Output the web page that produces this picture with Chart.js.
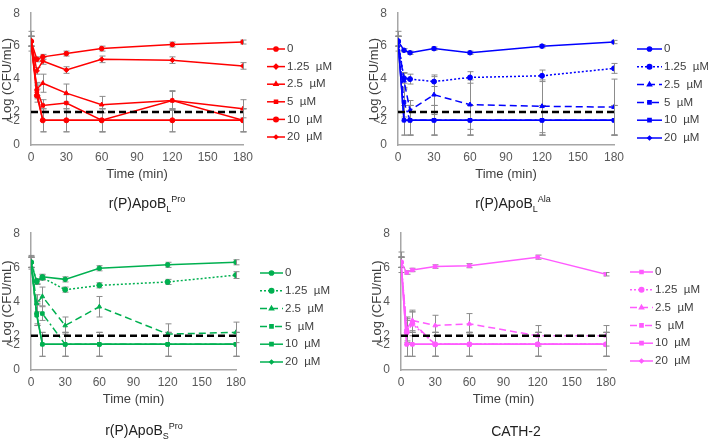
<!DOCTYPE html>
<html><head><meta charset="utf-8">
<script src="https://cdn.jsdelivr.net/npm/chart.js@4.4.1/dist/chart.umd.min.js"></script>
<style>
body{margin:0;width:708px;height:440px;background:#fff;position:relative;overflow:hidden;font-family:"Liberation Sans",Arial,sans-serif;}
canvas{position:absolute;}
.ttl{position:absolute;font-size:14px;color:#222;white-space:nowrap;transform:translate(-50%,-50%);}
.ttl sub,.ttl sup{font-size:9px;}
</style></head><body>
<script>
// ---------- DATA ----------
const times = [0, 5, 10, 30, 60, 120, 180];
const seriesLabels = ['0', '1.25  µM', '2.5  µM', '5  µM', '10  µM', '20  µM'];
const xTickStep = 30;
const yTickValues = [0, 1.5, 2, 4, 6, 8];
const yTickLabels = ['0', '<2', '2', '4', '6', '8'];
const detectionLimit = 2;
const xAxisTitle = 'Time (min)';
const yAxisTitle = 'Log (CFU/mL)';
const panelTitles = ['r(P)ApoB<sub>L</sub><sup>Pro</sup>', 'r(P)ApoB<sub>L</sub><sup>Ala</sup>', 'r(P)ApoB<sub>S</sub><sup>Pro</sup>', 'CATH-2'];

const apoBLProMeans = [
  [6.3, 5.2, 5.35, 5.55, 5.85, 6.1, 6.25],
  [6.3, 4.5, 5.1, 4.55, 5.2, 5.15, 4.8],
  [6.3, 3.4, 3.75, 3.15, 2.45, 2.7, 2.2],
  [6.3, 3.3, 2.4, 2.55, 1.5, 2.7, 1.5],
  [6.3, 3.0, 1.5, 1.5, 1.5, 1.5, 1.5],
  [6.3, 3.2, 1.5, 1.5, 1.5, 1.5, 1.5]
];
const apoBLProErrors = [
  [0.6, 0.15, 0.15, 0.15, 0.15, 0.15, 0.12],
  [0.3, 0.2, 0.2, 0.2, 0.2, 0.2, 0.2],
  [0.3, 0.4, 0.55, 0.55, 0.5, 0.6, 0.55],
  [0.3, 0.4, 0.35, 0.5, 0.7, 0.55, 0.7],
  [0.3, 0.4, 0.7, 0.7, 0.7, 0.7, 0.7],
  [0.3, 0.4, 0.7, 0.7, 0.7, 0.7, 0.7]
];
const apoBLAlaMeans = [
  [6.3, 5.75, 5.6, 5.85, 5.6, 6.0, 6.25],
  [6.3, 4.05, 4.0, 3.85, 4.1, 4.2, 4.65],
  [6.3, 3.9, 2.1, 3.05, 2.45, 2.35, 2.3],
  [6.3, 2.6, 1.5, 1.5, 1.5, 1.5, 1.5],
  [6.3, 1.5, 1.5, 1.5, 1.5, 1.5, 1.5],
  [6.3, 1.5, 1.5, 1.5, 1.5, 1.5, 1.5]
];
const apoBLAlaErrors = [
  [0.6, 0.1, 0.1, 0.1, 0.1, 0.1, 0.1],
  [0.3, 0.3, 0.3, 0.3, 0.35, 0.35, 0.3],
  [0.3, 0.5, 0.6, 1.2, 1.5, 1.6, 1.7],
  [0.3, 0.9, 0.9, 0.9, 0.9, 0.9, 0.9],
  [0.3, 0.9, 0.9, 0.9, 0.9, 0.9, 0.9],
  [0.3, 0.9, 0.9, 0.9, 0.9, 0.9, 0.9]
];
const apoBSProMeans = [
  [6.3, 5.15, 5.45, 5.3, 5.95, 6.15, 6.3],
  [6.3, 5.2, 5.4, 4.7, 4.95, 5.15, 5.55],
  [6.3, 3.9, 4.3, 2.6, 3.7, 2.1, 2.2],
  [6.3, 3.3, 3.3, 1.5, 1.5, 1.5, 1.5],
  [6.3, 3.2, 1.5, 1.5, 1.5, 1.5, 1.5],
  [6.3, 3.3, 1.5, 1.5, 1.5, 1.5, 1.5]
];
const apoBSProErrors = [
  [0.4, 0.15, 0.15, 0.15, 0.15, 0.15, 0.15],
  [0.3, 0.15, 0.15, 0.15, 0.15, 0.15, 0.2],
  [0.3, 0.5, 0.55, 0.5, 0.6, 0.6, 0.6],
  [0.3, 0.7, 0.4, 0.7, 0.7, 0.7, 0.7],
  [0.3, 0.6, 0.7, 0.7, 0.7, 0.7, 0.7],
  [0.3, 0.6, 0.7, 0.7, 0.7, 0.7, 0.7]
];
const cath2Means = [
  [6.3, 5.7, 5.85, 6.05, 6.1, 6.6, 5.6],
  [6.3, 2.2, 2.7, 1.5, 1.5, 1.5, 1.5],
  [6.3, 2.4, 2.9, 2.6, 2.7, 2.0, 2.0],
  [6.3, 2.3, 2.8, 1.5, 1.5, 1.5, 1.5],
  [6.3, 1.5, 1.5, 1.5, 1.5, 1.5, 1.5],
  [6.3, 1.5, 1.5, 1.5, 1.5, 1.5, 1.5]
];
const cath2Errors = [
  [0.6, 0.1, 0.1, 0.1, 0.12, 0.12, 0.1],
  [0.3, 0.7, 0.7, 0.7, 0.7, 0.7, 0.7],
  [0.3, 0.7, 0.6, 0.6, 0.6, 0.6, 0.6],
  [0.3, 0.7, 0.6, 0.7, 0.7, 0.7, 0.7],
  [0.3, 0.7, 0.7, 0.7, 0.7, 0.7, 0.7],
  [0.3, 0.7, 0.7, 0.7, 0.7, 0.7, 0.7]
];

// ---------- STYLE / LAYOUT ----------
const FONT = '"Liberation Sans", Arial, sans-serif';
const SOLID = [], DOT = [2, 2], DASH = [7, 4], DASHDOT = [7, 3, 2, 3];
const X_AXIS_H = 37;
const panels = [
  { means: apoBLProMeans, errors: apoBLProErrors, color: '#ff0000',
    dashes: [SOLID, SOLID, SOLID, SOLID, SOLID, SOLID],
    shapes: ['circle', 'rectRot', 'triangle', 'rect', 'circle', 'rectRot'],
    radii: [2.3, 2.5, 2.6, 2.4, 2.5, 2.0],
    cx: 0, cy: -5, cw: 354, ch: 225, left: 31, right: 243, top: 5, bottom: 145,
    lx1: 267, lx2: 285, ly0: 49, ldy: 17.6, tx: 147, ty: 204, ytx: 7 },
  { means: apoBLAlaMeans, errors: apoBLAlaErrors, color: '#0000ff',
    dashes: [SOLID, DOT, DASH, DASHDOT, SOLID, SOLID],
    shapes: ['circle', 'circle', 'triangle', 'rect', 'rect', 'rectRot'],
    radii: [2.3, 2.5, 2.6, 2.5, 2.5, 2.0],
    cx: 354, cy: -5, cw: 354, ch: 225, left: 398, right: 614, top: 5, bottom: 145,
    lx1: 637, lx2: 662, ly0: 49, ldy: 17.8, tx: 513, ty: 204, ytx: 374 },
  { means: apoBSProMeans, errors: apoBSProErrors, color: '#00b050',
    dashes: [SOLID, DOT, DASH, DASHDOT, SOLID, SOLID],
    shapes: ['circle', 'circle', 'triangle', 'rect', 'rect', 'rectRot'],
    radii: [2.3, 2.5, 2.6, 2.5, 2.5, 2.0],
    cx: 0, cy: 215, cw: 354, ch: 225, left: 31, right: 236, top: 228, bottom: 370,
    lx1: 260, lx2: 283, ly0: 273, ldy: 17.8, tx: 144, ty: 431, ytx: 7 },
  { means: cath2Means, errors: cath2Errors, color: '#ff5bff',
    dashes: [SOLID, DOT, DASH, DASHDOT, SOLID, SOLID],
    shapes: ['rect', 'circle', 'triangle', 'rect', 'rect', 'rectRot'],
    radii: [2.4, 2.5, 2.6, 2.5, 2.5, 2.0],
    cx: 354, cy: 215, cw: 354, ch: 225, left: 401, right: 606, top: 227, bottom: 370,
    lx1: 630, lx2: 653, ly0: 272, ldy: 17.8, tx: 516, ty: 431, ytx: 377 }
];

const errorBarPlugin = {
  id: 'errbars',
  beforeDatasetsDraw(chart) {
    const ctx = chart.ctx, xs = chart.scales.x, ys = chart.scales.y;
    ctx.save();
    ctx.strokeStyle = '#8c8c8c'; ctx.lineWidth = 1;
    chart.data.datasets.forEach(ds => {
      if (!ds.errors) return;
      ds.data.forEach((p, i) => {
        const e = ds.errors[i]; if (!e) return;
        const px = Math.round(xs.getPixelForValue(p.x)) + 0.5;
        const y1 = ys.getPixelForValue(p.y + e), y2 = ys.getPixelForValue(Math.max(0, p.y - e));
        ctx.beginPath();
        ctx.moveTo(px, y1); ctx.lineTo(px, y2);
        ctx.moveTo(px - 3, y1); ctx.lineTo(px + 3, y1);
        ctx.moveTo(px - 3, y2); ctx.lineTo(px + 3, y2);
        ctx.stroke();
      });
    });
    ctx.restore();
  }
};

const sideLegendPlugin = {
  id: 'sideLegend',
  afterDraw(chart, args, o) {
    const ctx = chart.ctx;
    // y-axis title
    ctx.save();
    ctx.translate(o.ytx, (chart.chartArea.top + chart.chartArea.bottom) / 2);
    ctx.rotate(-Math.PI / 2);
    ctx.fillStyle = '#404040'; ctx.font = '13px ' + FONT;
    ctx.textAlign = 'center'; ctx.textBaseline = 'middle';
    ctx.fillText(yAxisTitle, 0, 0);
    ctx.restore();
    chart.data.datasets.filter(d => d.inLegend).forEach((ds, i) => {
      const y = o.y0 + i * o.dy;
      ctx.save();
      ctx.strokeStyle = ds.borderColor; ctx.lineWidth = ds.borderWidth;
      ctx.setLineDash(ds.borderDash || []);
      ctx.beginPath(); ctx.moveTo(o.x1, y); ctx.lineTo(o.x2, y); ctx.stroke();
      ctx.setLineDash([]);
      ctx.fillStyle = ds.pointBackgroundColor; ctx.strokeStyle = ds.borderColor;
      Chart.helpers.drawPoint(ctx, { pointStyle: ds.pointStyle, radius: ds.pointRadius * 0.9, borderWidth: 1, rotation: 0 }, (o.x1 + o.x2) / 2, y);
      ctx.fillStyle = '#404040';
      ctx.font = '11.5px ' + FONT;
      ctx.textBaseline = 'middle'; ctx.textAlign = 'left';
      ctx.fillText(ds.label, o.x2 + 2, y);
      ctx.restore();
    });
  }
};

panels.forEach((p, pi) => {
  const cv = document.createElement('canvas');
  cv.width = p.cw; cv.height = p.ch;
  cv.style.left = p.cx + 'px'; cv.style.top = p.cy + 'px';
  cv.style.width = p.cw + 'px'; cv.style.height = p.ch + 'px';
  document.body.appendChild(cv);

  const t = document.createElement('div');
  t.className = 'ttl'; t.innerHTML = panelTitles[pi];
  t.style.left = p.tx + 'px'; t.style.top = p.ty + 'px';
  document.body.appendChild(t);

  const datasets = [{
    label: 'limit', data: [{ x: 0, y: detectionLimit }, { x: 180, y: detectionLimit }],
    borderColor: '#000', borderWidth: 2.5, borderDash: [7, 4], pointRadius: 0, inLegend: false
  }];
  p.means.forEach((m, si) => {
    datasets.push({
      label: seriesLabels[si],
      data: times.map((tm, k) => ({ x: tm, y: m[k] })),
      errors: p.errors[si],
      borderColor: p.color, backgroundColor: p.color, pointBackgroundColor: p.color, pointBorderColor: p.color,
      borderWidth: 1.5, borderDash: p.dashes[si], pointStyle: p.shapes[si], pointRadius: p.radii[si],
      pointBorderWidth: 1, tension: 0, inLegend: true
    });
  });

  const relLeft = p.left - p.cx, relTop = p.top - p.cy, relRight = p.right - p.cx, relBottom = p.bottom - p.cy;
  new Chart(cv, {
    type: 'line',
    data: { datasets },
    plugins: [errorBarPlugin, sideLegendPlugin],
    options: {
      responsive: false, animation: false, devicePixelRatio: 1,
      layout: { padding: { left: 0, top: relTop, right: p.cw - relRight, bottom: p.ch - relBottom - X_AXIS_H } },
      plugins: {
        legend: { display: false }, tooltip: { enabled: false },
        sideLegend: { x1: p.lx1 - p.cx, x2: p.lx2 - p.cx, y0: p.ly0 - p.cy, dy: p.ldy, ytx: p.ytx - p.cx }
      },
      scales: {
        x: {
          type: 'linear', min: 0, max: 180,
          ticks: { stepSize: xTickStep, color: '#595959', font: { size: 12, family: FONT }, padding: 5, maxRotation: 0 },
          grid: { display: false, drawTicks: false },
          border: { display: true, color: '#a6a6a6', width: 1.5 },
          title: { display: true, text: xAxisTitle, color: '#404040', font: { size: 13, family: FONT }, padding: { top: 0, bottom: 0 } },
          afterFit(s) { s.height = X_AXIS_H; }
        },
        y: {
          type: 'linear', min: 0, max: 8,
          afterBuildTicks(s) { s.ticks = yTickValues.map(v => ({ value: v })); },
          ticks: { autoSkip: false, color: '#595959', font: { size: 12, family: FONT }, padding: 11,
            callback: (v, i) => yTickLabels[i] },
          grid: { display: false, drawTicks: false },
          border: { display: true, color: '#a6a6a6', width: 1.5 },
          title: { display: false },
          afterFit(s) { s.width = relLeft; }
        }
      }
    }
  });
});
</script>
</body></html>
